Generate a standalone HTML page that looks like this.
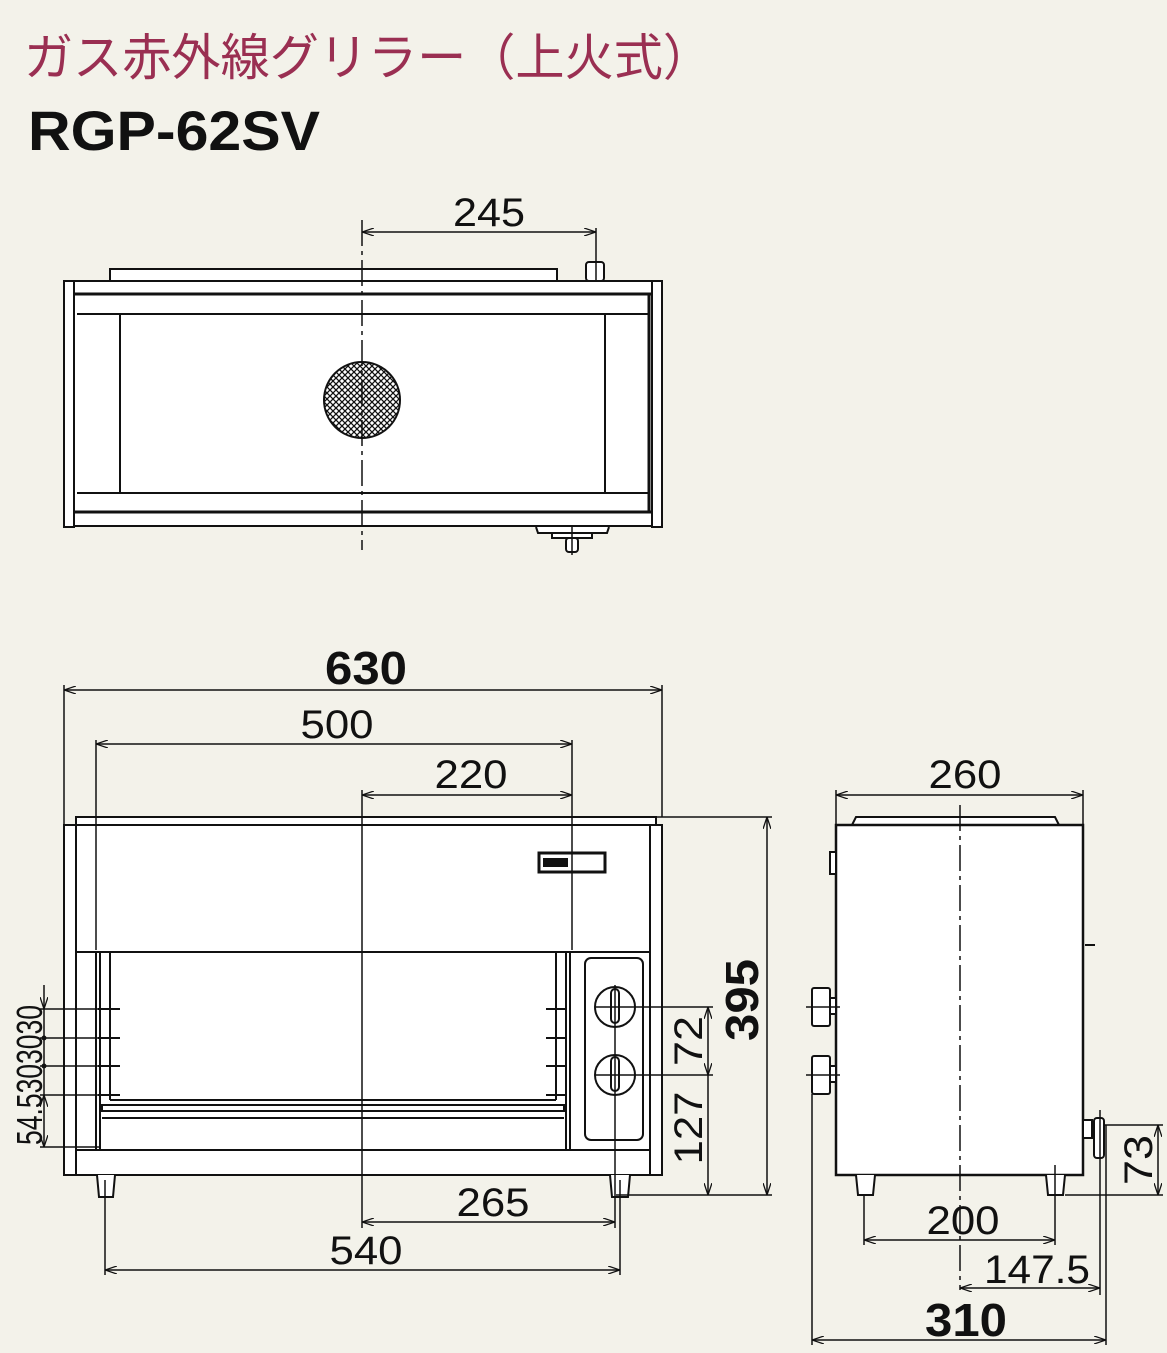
<!DOCTYPE html>
<html><head><meta charset="utf-8"><style>
html,body{margin:0;padding:0;background:#f3f2ea;}
svg{display:block}
text{font-family:"Liberation Sans","Noto Sans CJK JP",sans-serif;fill:#111}
</style></head><body>
<svg width="1167" height="1353" viewBox="0 0 1167 1353" xmlns="http://www.w3.org/2000/svg">
<defs>
<marker id="a" viewBox="0 0 12 8" refX="12" refY="4" markerWidth="12" markerHeight="8" orient="auto-start-reverse" markerUnits="userSpaceOnUse"><path d="M0,0 L12,4 L0,8" fill="none" stroke="#111" stroke-width="1.3"/></marker>
<pattern id="mesh" width="6" height="6" patternUnits="userSpaceOnUse"><path d="M0,0 L6,6 M6,0 L0,6" stroke="#111" stroke-width="1.3"/></pattern>
</defs>
<rect width="1167" height="1353" fill="#f3f2ea"/>
<text x="24" y="75" font-size="50" textLength="688" lengthAdjust="spacingAndGlyphs" style="fill:#9a2f52">ガス赤外線グリラー（上火式）</text>
<text x="28" y="150" font-size="56" font-weight="bold" textLength="292" lengthAdjust="spacingAndGlyphs">RGP-62SV</text>

<g stroke="#111" stroke-width="2" fill="#fff">
<rect x="110" y="269" width="447" height="12"/>
<rect x="586" y="262" width="18" height="19" rx="3"/>
<rect x="64" y="281" width="10" height="246"/>
<rect x="652" y="281" width="10" height="246"/>
<rect x="74" y="281" width="578" height="245"/>
<line x1="74" y1="294" x2="652" y2="294" stroke-width="3"/>
<line x1="74" y1="512" x2="652" y2="512" stroke-width="3"/>
<line x1="77" y1="314" x2="650" y2="314"/>
<line x1="77" y1="493" x2="650" y2="493"/>
<line x1="120" y1="314" x2="120" y2="493"/>
<line x1="605" y1="314" x2="605" y2="493"/>
<line x1="649" y1="294" x2="649" y2="512" stroke-width="3"/>
<circle cx="362" cy="400" r="38" fill="url(#mesh)"/>
<path d="M536,527 L538,533 L607,533 L609,527" />
<rect x="552" y="533" width="40" height="5"/>
<rect x="566" y="538" width="12" height="14" rx="3"/>
</g>
<g stroke="#111" stroke-width="1.5" fill="none">
<line x1="362" y1="220" x2="362" y2="550" stroke-dasharray="26,5,4,5"/>
<line x1="596" y1="228" x2="596" y2="280"/>
<line x1="572" y1="525" x2="572" y2="555"/>
<line x1="362" y1="232" x2="596" y2="232" marker-end="url(#a)" marker-start="url(#a)"/>
</g>
<text x="489" y="226" font-size="40" text-anchor="middle" textLength="72" lengthAdjust="spacingAndGlyphs">245</text>

<g stroke="#111" stroke-width="2" fill="#fff">
<rect x="64" y="825" width="12" height="350"/>
<rect x="650" y="825" width="12" height="350"/>
<rect x="76" y="817" width="580" height="8"/>
<rect x="76" y="825" width="574" height="350"/>
<line x1="76" y1="952" x2="650" y2="952"/>
<line x1="76" y1="1150" x2="650" y2="1150"/>
<rect x="96" y="952" width="474" height="198"/>
<line x1="100" y1="952" x2="100" y2="1150"/>
<line x1="110" y1="952" x2="110" y2="1100"/>
<line x1="556" y1="952" x2="556" y2="1100"/>
<line x1="566" y1="952" x2="566" y2="1150"/>
<line x1="110" y1="1100" x2="556" y2="1100"/>
<rect x="102" y="1105" width="462" height="6"/>
<line x1="102" y1="1118" x2="564" y2="1118"/>
<rect x="585" y="958" width="58" height="182" rx="6"/>
<circle cx="615" cy="1007" r="20"/>
<circle cx="615" cy="1075" r="20"/>
<rect x="611" y="989" width="8" height="34" rx="4"/>
<rect x="611" y="1057" width="8" height="34" rx="4"/>
<rect x="539" y="853" width="66" height="19" stroke-width="3"/>
<rect x="543" y="858" width="25" height="9" fill="#111" stroke="none"/>
<path d="M97,1175 L99,1197 L113,1197 L115,1175"/>
<path d="M610,1175 L612,1197 L628,1197 L630,1175"/>
</g>
<g stroke="#111" stroke-width="2" fill="none">
<path d="M98,1009 h22 M98,1038 h22 M98,1066 h22 M98,1095 h22"/>
<path d="M546,1009 h20 M546,1038 h20 M546,1066 h20 M546,1095 h20"/>
</g>
<g stroke="#111" stroke-width="1.5" fill="none">
<line x1="362" y1="790" x2="362" y2="1228"/>
<line x1="572" y1="740" x2="572" y2="950"/>
<line x1="96" y1="740" x2="96" y2="950"/>
<line x1="64" y1="685" x2="64" y2="825"/>
<line x1="662" y1="685" x2="662" y2="817"/>
<line x1="64" y1="690" x2="662" y2="690" marker-end="url(#a)" marker-start="url(#a)"/>
<line x1="96" y1="744" x2="572" y2="744" marker-end="url(#a)" marker-start="url(#a)"/>
<line x1="362" y1="795" x2="572" y2="795" marker-end="url(#a)" marker-start="url(#a)"/>
<line x1="656" y1="817" x2="772" y2="817"/>
<line x1="616" y1="1195" x2="772" y2="1195"/>
<line x1="767" y1="817" x2="767" y2="1195" marker-end="url(#a)" marker-start="url(#a)"/>
<line x1="595" y1="1007" x2="713" y2="1007"/>
<line x1="595" y1="1075" x2="713" y2="1075"/>
<line x1="708" y1="1007" x2="708" y2="1075" marker-end="url(#a)" marker-start="url(#a)"/>
<line x1="708" y1="1075" x2="708" y2="1195" marker-end="url(#a)"/>
<line x1="615" y1="985" x2="615" y2="1228"/>
<line x1="105" y1="1180" x2="105" y2="1275"/>
<line x1="620" y1="1180" x2="620" y2="1275"/>
<line x1="362" y1="1222" x2="615" y2="1222" marker-end="url(#a)" marker-start="url(#a)"/>
<line x1="105" y1="1270" x2="620" y2="1270" marker-end="url(#a)" marker-start="url(#a)"/>
<path d="M40,1009 H100 M40,1038 H100 M40,1066 H100 M40,1095 H100 M40,1147 H100"/>
<line x1="44" y1="985" x2="44" y2="1009" marker-end="url(#a)"/>
<line x1="44" y1="1009" x2="44" y2="1095"/>
<line x1="44" y1="1095" x2="44" y2="1147" marker-end="url(#a)" marker-start="url(#a)"/>
</g>
<g fill="#111"><circle cx="44" cy="1038" r="2.5"/><circle cx="44" cy="1066" r="2.5"/></g>
<text x="366" y="684" font-size="46" font-weight="bold" text-anchor="middle" textLength="82" lengthAdjust="spacingAndGlyphs">630</text>
<text x="337" y="738" font-size="40" text-anchor="middle" textLength="73" lengthAdjust="spacingAndGlyphs">500</text>
<text x="471" y="788" font-size="40" text-anchor="middle" textLength="73" lengthAdjust="spacingAndGlyphs">220</text>
<text x="493" y="1216" font-size="40" text-anchor="middle" textLength="73" lengthAdjust="spacingAndGlyphs">265</text>
<text x="366" y="1264" font-size="40" text-anchor="middle" textLength="73" lengthAdjust="spacingAndGlyphs">540</text>
<text transform="translate(758,1000) rotate(-90)" font-size="46" font-weight="bold" text-anchor="middle" textLength="82" lengthAdjust="spacingAndGlyphs">395</text>
<text transform="translate(702,1041) rotate(-90)" font-size="40" text-anchor="middle" textLength="50" lengthAdjust="spacingAndGlyphs">72</text>
<text transform="translate(702,1128) rotate(-90)" font-size="40" text-anchor="middle" textLength="73" lengthAdjust="spacingAndGlyphs">127</text>
<text transform="translate(42,1075) rotate(-90)" font-size="36" text-anchor="middle" textLength="140" lengthAdjust="spacingAndGlyphs">54.5303030</text>

<g stroke="#111" stroke-width="2" fill="#fff">
<path d="M852,825 L856,817 L1055,817 L1059,825"/>
<rect x="836" y="825" width="247" height="350" stroke-width="2.5"/>
<rect x="830" y="852" width="6" height="22"/>
<rect x="1083" y="1120" width="9" height="18"/>
<rect x="1094" y="1118" width="10" height="40" rx="3"/>
<rect x="812" y="988" width="18" height="38" rx="2"/>
<rect x="812" y="1056" width="18" height="38" rx="2"/>
<rect x="830" y="998" width="6" height="16"/>
<rect x="830" y="1066" width="6" height="16"/>
<path d="M856,1175 L858,1195 L873,1195 L875,1175"/>
<path d="M1046,1175 L1048,1195 L1063,1195 L1065,1175"/>
</g>
<g stroke="#111" stroke-width="1.5" fill="none">
<line x1="1085" y1="945" x2="1095" y2="945" stroke-width="2"/>
<line x1="960" y1="805" x2="960" y2="1290" stroke-dasharray="26,5,4,5"/>
<line x1="806" y1="1007" x2="840" y2="1007"/>
<line x1="806" y1="1075" x2="840" y2="1075"/>
<line x1="836" y1="790" x2="836" y2="825"/>
<line x1="1083" y1="790" x2="1083" y2="825"/>
<line x1="836" y1="795" x2="1083" y2="795" marker-end="url(#a)" marker-start="url(#a)"/>
<line x1="864" y1="1195" x2="864" y2="1245"/>
<line x1="1055" y1="1165" x2="1055" y2="1245"/>
<line x1="864" y1="1240" x2="1055" y2="1240" marker-end="url(#a)" marker-start="url(#a)"/>
<line x1="1100" y1="1110" x2="1100" y2="1295"/>
<line x1="1106" y1="1125" x2="1106" y2="1345"/>
<line x1="960" y1="1288" x2="1100" y2="1288" marker-end="url(#a)" marker-start="url(#a)"/>
<line x1="812" y1="1094" x2="812" y2="1345"/>
<line x1="812" y1="1340" x2="1106" y2="1340" marker-end="url(#a)" marker-start="url(#a)"/>
<line x1="1105" y1="1125" x2="1163" y2="1125"/>
<line x1="1065" y1="1195" x2="1163" y2="1195"/>
<line x1="1158" y1="1125" x2="1158" y2="1195" marker-end="url(#a)" marker-start="url(#a)"/>
</g>
<text x="965" y="788" font-size="40" text-anchor="middle" textLength="73" lengthAdjust="spacingAndGlyphs">260</text>
<text x="963" y="1234" font-size="40" text-anchor="middle" textLength="73" lengthAdjust="spacingAndGlyphs">200</text>
<text x="1037" y="1283" font-size="40" text-anchor="middle" textLength="106" lengthAdjust="spacingAndGlyphs">147.5</text>
<text x="966" y="1336" font-size="46" font-weight="bold" text-anchor="middle" textLength="82" lengthAdjust="spacingAndGlyphs">310</text>
<text transform="translate(1152,1160) rotate(-90)" font-size="40" text-anchor="middle" textLength="50" lengthAdjust="spacingAndGlyphs">73</text>
</svg>
</body></html>
